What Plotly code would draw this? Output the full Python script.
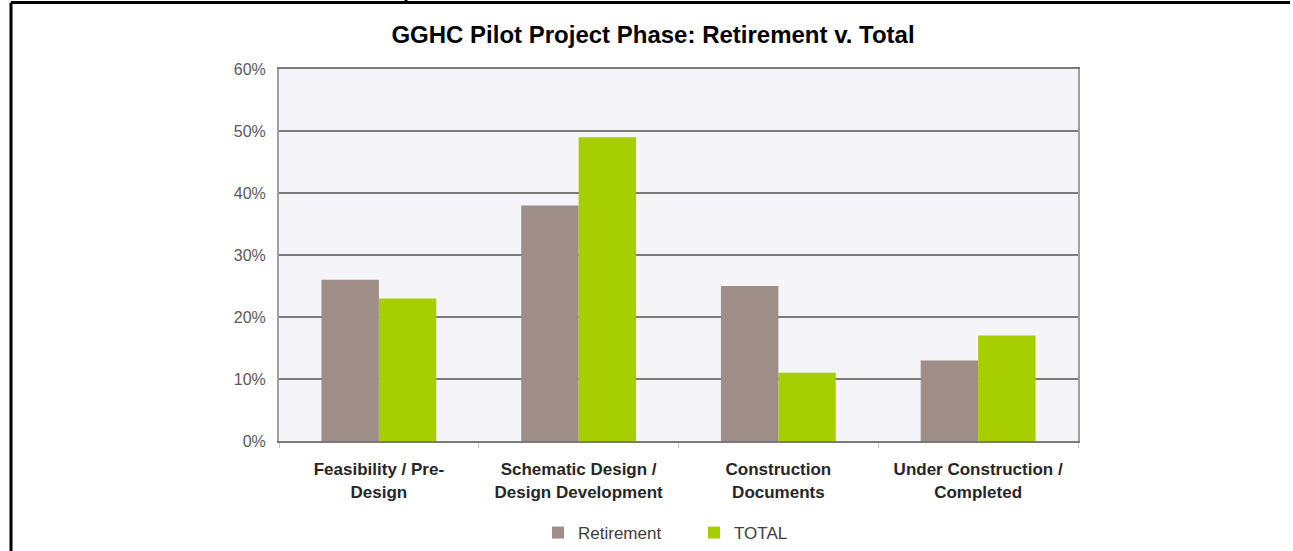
import plotly.graph_objects as go

categories = ["<b>Feasibility / Pre-<br>Design</b>",
              "<b>Schematic Design /<br>Design Development</b>",
              "<b>Construction<br>Documents</b>",
              "<b>Under Construction /<br>Completed</b>"]
retirement = [26, 38, 25, 13]
total = [23, 49, 11, 17]
tick_vals = [0, 10, 20, 30, 40, 50, 60]
tick_text = ["0%", "10%", "20%", "30%", "40%", "50%", "60%"]

W, H = 1293, 551
L, R, T, B = 279, 1078, 69, 441


def px(x):
    return (x - L) / (R - L)


def py(y):
    return (B - y) / (B - T)


fig = go.Figure()
fig.add_trace(go.Bar(x=categories, y=retirement, name="Retirement",
                     marker=dict(color="#9E8E87", line=dict(width=0))))
fig.add_trace(go.Bar(x=categories, y=total, name="TOTAL",
                     marker=dict(color="#A6CE00", line=dict(width=0))))

frame = dict(type="line", xref="paper", yref="paper",
             line=dict(color="black", width=3), layer="above")
shapes = [
    dict(frame, x0=px(11), x1=px(11), y0=py(2.5), y1=py(560)),
    dict(frame, x0=px(11), x1=px(1290), y0=py(2.5), y1=py(2.5)),
    dict(frame, x0=px(406), x1=px(406), y0=py(-2), y1=py(2.5)),
]

fig.update_layout(
    width=W, height=H,
    margin=dict(l=L, r=W - R, t=T, b=H - B, autoexpand=False),
    paper_bgcolor="white",
    plot_bgcolor="#F4F4F9",
    barmode="group",
    bargap=0.425,
    bargroupgap=0,
    font=dict(family="Liberation Sans, Arial, sans-serif"),
    title=dict(text="<b>GGHC Pilot Project Phase: Retirement v. Total</b>",
               xref="container", x=653 / W, xanchor="center",
               y=1 - 35 / H, yanchor="middle",
               font=dict(size=24, color="black")),
    showlegend=True,
    legend=dict(orientation="h", x=px(538), xanchor="left",
                y=py(533), yanchor="middle",
                font=dict(size=17, color="#404040"),
                entrywidth=111, entrywidthmode="pixels",
                itemwidth=30, bgcolor="rgba(0,0,0,0)"),
    shapes=shapes,
)
fig.update_yaxes(range=[0, 60], tickvals=tick_vals, ticktext=tick_text,
                 showgrid=True, gridcolor="#7A7A7A", gridwidth=2,
                 zeroline=False,
                 showline=True, linecolor="#A0A0A0", linewidth=2, mirror=True,
                 ticks="", ticklabelstandoff=8,
                 tickfont=dict(size=16, color="#595959"))
fig.update_xaxes(showline=True, linecolor="#7A7A7A", linewidth=2, mirror=True,
                 tickson="boundaries", ticks="outside", ticklen=5,
                 tickcolor="#C8C8C8", ticklabelstandoff=12,
                 tickfont=dict(size=17, color="#262626"))

fig.write_html("out.html", config={"displayModeBar": False},
               post_script="document.body.style.margin='0';")
